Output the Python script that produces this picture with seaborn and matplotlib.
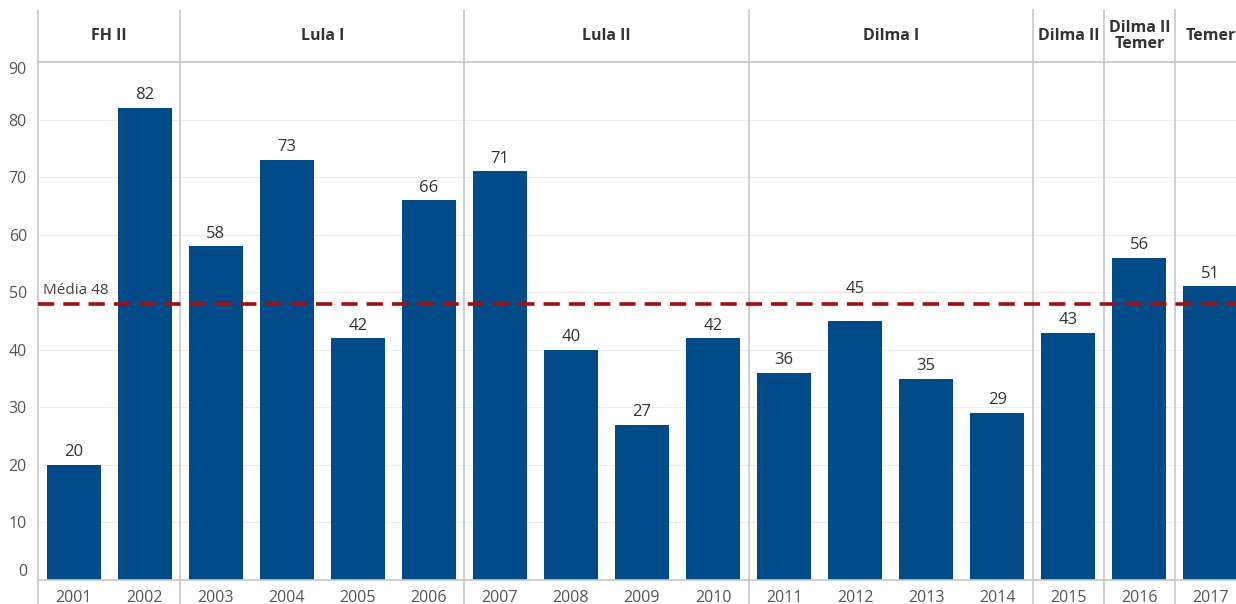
import numpy as np
import pandas as pd
import seaborn as sns
import matplotlib
matplotlib.use('Agg')
import matplotlib.pyplot as plt
import matplotlib.transforms as mtransforms

years = ['2001', '2002', '2003', '2004', '2005', '2006', '2007', '2008', '2009',
         '2010', '2011', '2012', '2013', '2014', '2015', '2016', '2017']
values = [20, 82, 58, 73, 42, 66, 71, 40, 27, 42, 36, 45, 35, 29, 43, 56, 51]
governos = ['FH II', 'Lula I', 'Lula II', 'Dilma I', 'Dilma II', 'Dilma II\nTemer', 'Temer']
anos_por_governo = [2, 4, 4, 4, 1, 1, 1]
media = 48

df = pd.DataFrame({'ano': years, 'valor': values})

sns.set_style('white')
plt.rcParams['font.family'] = ['Open Sans', 'DejaVu Sans']

fig = plt.figure(figsize=(12.36, 6.04), dpi=100)
ax = fig.add_axes([38 / 1236, 24 / 604, 1198 / 1236, 518 / 604])

sns.barplot(data=df, x='ano', y='valor', color='#014B89', saturation=1, width=0.76,
            linewidth=0, ax=ax)

ax.set_ylim(0, 90)
ax.set_xlim(-0.5, 16.36)
ax.set_yticks(range(0, 100, 10))
ax.grid(axis='y', color='#ececec', linewidth=0.8)
ax.set_axisbelow(True)
ax.set_xlabel('')
ax.set_ylabel('')
ax.tick_params(axis='both', length=0, labelsize=11.5, colors='#555555')
ax.tick_params(axis='x', pad=7)
ax.tick_params(axis='y', pad=8)
for lbl in ax.get_yticklabels():
    if lbl.get_text() == '0':
        lbl.set_va('bottom')
    elif lbl.get_text() == '90':
        lbl.set_va('top')

for s in ['left', 'right']:
    ax.spines[s].set_visible(False)
for s in ['top', 'bottom']:
    ax.spines[s].set_color('#c8c8c8')
    ax.spines[s].set_linewidth(1.2)

# valores sobre as barras (desviando da linha da média)
for i, v in enumerate(values):
    y = v + 0.8
    if v < media and y + 2.8 > media:
        y = media + 1.2
    ax.text(i, y, str(v), ha='center', va='bottom', fontsize=12, color='#333333')

# linha da média
ax.axhline(media, color='#A50E0E', linestyle=(0, (4.5, 2.5)), linewidth=2.6, zorder=3)
ax.text(-0.43, media + 1.0, f'Média {media}', ha='left', va='bottom', fontsize=11, color='#444444')

# separadores e cabeçalhos dos governos
trans = mtransforms.blended_transform_factory(ax.transData, ax.transAxes)
top_ext = (580 - 10) / 518
bot_ext = -(604 - 580) / 518
start = -0.5
ax.axvline(start, ymin=bot_ext, ymax=top_ext, color='#c8c8c8', linewidth=1.2, clip_on=False)
for gov, n in zip(governos, anos_por_governo):
    end = start + n
    ax.axvline(end, ymin=bot_ext, ymax=top_ext, color='#c8c8c8', linewidth=1.2, clip_on=False)
    ax.text((start + end) / 2, (580 - 36) / 518, gov, transform=trans, ha='center', va='center',
            fontsize=11.5, fontweight='bold', color='#333333', linespacing=0.95, clip_on=False)
    start = end

fig.savefig('out.png', dpi=100)
